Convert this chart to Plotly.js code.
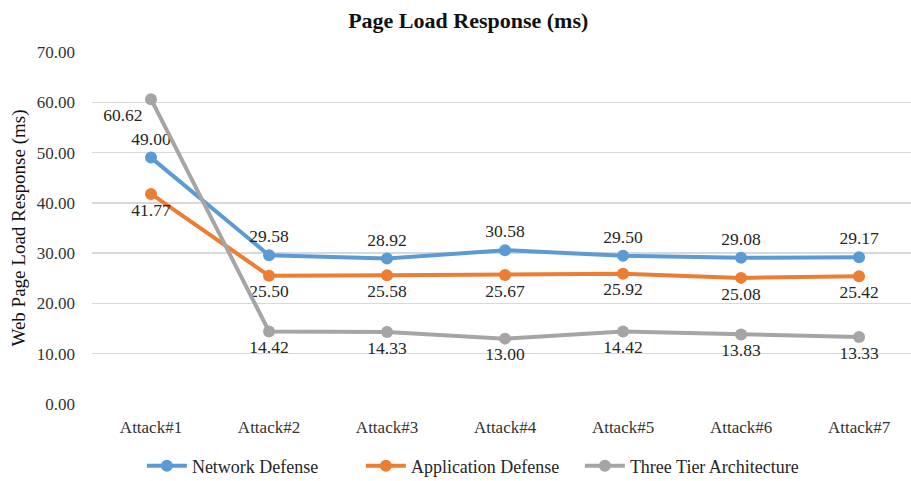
<!DOCTYPE html>
<html><head><meta charset="utf-8">
<script src="https://cdn.plot.ly/plotly-3.0.1.min.js"></script>
<style>html,body{margin:0;padding:0;background:#fff}#chart{width:911px;height:481px}</style>
</head><body><div id="chart"></div>
<script>
const categories = ["Attack#1","Attack#2","Attack#3","Attack#4","Attack#5","Attack#6","Attack#7"];
const networkDefense = [49.00, 29.58, 28.92, 30.58, 29.50, 29.08, 29.17];
const applicationDefense = [41.77, 25.50, 25.58, 25.67, 25.92, 25.08, 25.42];
const threeTier = [60.62, 14.42, 14.33, 13.00, 14.42, 13.83, 13.33];
const yTicks = [0,10,20,30,40,50,60,70];

const serif = "Liberation Serif";
function tr(name, y, color, pos){
  return {x: categories, y: y, name: name, type: 'scatter', mode: 'lines+markers+text',
    line: {color: color, width: 4}, marker: {color: color, size: 12},
    texttemplate: '%{y:.2f}', textposition: pos,
    textfont: {family: serif, size: 17.5, color: '#262626'}, cliponaxis: false};
}
const data = [
  tr('Network Defense', networkDefense, '#5B9BD5', 'top center'),
  tr('Application Defense', applicationDefense, '#ED7D31', 'bottom center'),
  tr('Three Tier Architecture', threeTier, '#A5A5A5', ['bottom left','bottom center','bottom center','bottom center','bottom center','bottom center','bottom center'])
];
const layout = {
  width: 911, height: 481,
  margin: {l: 92, r: 0, t: 52, b: 77, autoexpand: false},
  paper_bgcolor: '#fff', plot_bgcolor: '#fff',
  title: {text: '<b>Page Load Response (ms)</b>', x: 0.514, xanchor: 'center', y: 0.958, yanchor: 'middle',
    font: {family: serif, size: 22, color: '#111'}},
  xaxis: {type: 'category', range: [-0.5, 6.44], showgrid: false, zeroline: false, showline: false,
    tickfont: {family: serif, size: 17, color: '#333'}, ticks: '', ticklabelstandoff: 11},
  yaxis: {range: [0, 70], tickvals: yTicks, tickformat: '.2f', showgrid: true, gridcolor: '#d9d9d9', gridwidth: 1.5,
    zeroline: false, showline: false, tickfont: {family: serif, size: 17, color: '#333'}, ticklabelstandoff: 16,
    title: {text: 'Web Page Load Response (ms)', font: {family: serif, size: 19, color: '#111'}, standoff: 6}},
  legend: {orientation: 'h', x: 0.462, xanchor: 'center', y: -0.176, yanchor: 'middle',
    font: {family: serif, size: 18, color: '#262626'}, itemwidth: 40, entrywidth: 164, entrywidthmode: 'pixels'},
  showlegend: true
};
Plotly.newPlot('chart', data, layout, {displayModeBar: false, staticPlot: true});
</script></body></html>
